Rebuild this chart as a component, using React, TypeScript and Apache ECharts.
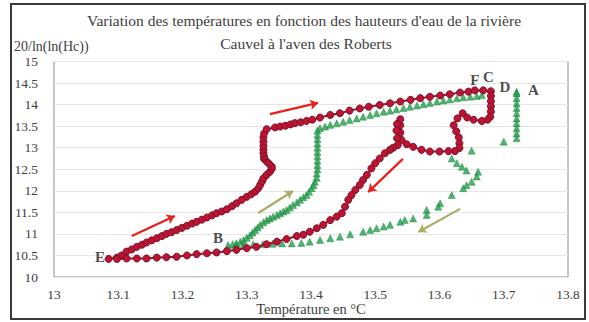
import React, { useEffect, useRef } from "react";
import * as echarts from "echarts";

const titleLines = [
  "Variation des températures en fonction des hauteurs d'eau de la rivière",
  "Cauvel à l'aven des Roberts",
];
const yName = "20/ln(ln(Hc))";
const xName = "Température en °C";

// Red series (circles): temperature / 20/ln(ln(Hc))
const redT = [
  13.085, 13.098, 13.105, 13.113, 13.121, 13.129, 13.137, 13.144, 13.152, 13.16, 13.168, 13.175, 13.183, 13.191, 13.199,
  13.207, 13.215, 13.222, 13.23, 13.238, 13.246, 13.253, 13.261, 13.269, 13.277, 13.284, 13.292, 13.3, 13.307, 13.313,
  13.318, 13.321, 13.324, 13.326, 13.331, 13.336, 13.339, 13.339, 13.335, 13.331, 13.327, 13.327, 13.326, 13.326, 13.326,
  13.326, 13.326, 13.327, 13.331, 13.344, 13.352, 13.36, 13.368, 13.375, 13.384, 13.393, 13.402, 13.414, 13.43, 13.445,
  13.46, 13.476, 13.49, 13.507, 13.523, 13.539, 13.555, 13.57, 13.585, 13.601, 13.616, 13.632, 13.645, 13.655, 13.668,
  13.68, 13.68, 13.68, 13.68, 13.68, 13.679, 13.675, 13.666, 13.653, 13.643, 13.636, 13.628, 13.622, 13.626, 13.63,
  13.631, 13.631, 13.624, 13.614, 13.6, 13.585, 13.572, 13.559, 13.549, 13.541, 13.539, 13.539, 13.539, 13.534, 13.533,
  13.534, 13.535, 13.528, 13.523, 13.515, 13.507, 13.5, 13.494, 13.487, 13.481, 13.476, 13.469, 13.463, 13.458, 13.453,
  13.448, 13.44, 13.43, 13.419, 13.409, 13.398, 13.388, 13.378, 13.362, 13.347, 13.331, 13.315, 13.3, 13.284, 13.269,
  13.253, 13.238, 13.222, 13.207, 13.191, 13.175, 13.16, 13.144, 13.129, 13.113, 13.098,
];
const redH = [
  10.42, 10.45, 10.5, 10.59, 10.64, 10.7, 10.75, 10.8, 10.85, 10.9, 10.95, 11.0, 11.04, 11.09, 11.14,
  11.19, 11.24, 11.28, 11.33, 11.38, 11.43, 11.48, 11.52, 11.57, 11.64, 11.71, 11.79, 11.86, 11.92, 11.98,
  12.06, 12.14, 12.22, 12.29, 12.37, 12.44, 12.51, 12.56, 12.62, 12.68, 12.74, 12.79, 12.87, 12.95, 13.04,
  13.14, 13.24, 13.33, 13.43, 13.47, 13.49, 13.51, 13.54, 13.57, 13.59, 13.62, 13.65, 13.7, 13.76, 13.8,
  13.86, 13.91, 13.95, 13.99, 14.03, 14.07, 14.11, 14.15, 14.18, 14.21, 14.24, 14.28, 14.3, 14.33, 14.33,
  14.31, 14.2, 14.08, 13.96, 13.84, 13.72, 13.65, 13.62, 13.65, 13.7, 13.8, 13.68, 13.52, 13.38, 13.24,
  13.1, 12.99, 12.92, 12.92, 12.91, 12.91, 12.95, 13.02, 13.08, 13.18, 13.35, 13.52, 13.66, 13.55, 13.4,
  13.22, 13.06, 13.0, 12.95, 12.87, 12.75, 12.64, 12.52, 12.37, 12.25, 12.135, 12.02, 11.9, 11.79, 11.63,
  11.48, 11.4, 11.32, 11.21, 11.13, 11.05, 10.98, 10.95, 10.88, 10.82, 10.76, 10.7, 10.67, 10.63, 10.6,
  10.57, 10.55, 10.53, 10.5, 10.47, 10.46, 10.45, 10.43, 10.43, 10.43, 10.42,
];

// Green series (triangles)
const greenT = [
  13.72, 13.72, 13.72, 13.72, 13.72, 13.72, 13.72, 13.72, 13.72, 13.72, 13.72, 13.7, 13.65, 13.619, 13.627,
  13.635, 13.642, 13.66, 13.658, 13.65, 13.642, 13.637, 13.619, 13.601, 13.598, 13.58, 13.58, 13.559, 13.546, 13.539,
  13.523, 13.513, 13.502, 13.492, 13.481, 13.461, 13.445, 13.43, 13.414, 13.398, 13.385, 13.37, 13.355, 13.34, 13.325,
  13.31, 13.295, 13.283, 13.271, 13.278, 13.284, 13.29, 13.295, 13.3, 13.305, 13.309, 13.313, 13.317, 13.321, 13.326,
  13.331, 13.336, 13.341, 13.347, 13.352, 13.357, 13.362, 13.367, 13.372, 13.378, 13.383, 13.388, 13.393, 13.397, 13.401,
  13.404, 13.406, 13.409, 13.409, 13.41, 13.41, 13.41, 13.41, 13.41, 13.41, 13.41, 13.41, 13.41, 13.41, 13.414,
  13.422, 13.43, 13.44, 13.45, 13.46, 13.471, 13.481, 13.492, 13.502, 13.513, 13.523, 13.533, 13.544, 13.554, 13.565,
  13.575, 13.585, 13.596, 13.606, 13.616, 13.627, 13.637, 13.648, 13.658, 13.666,
];
const greenH = [
  14.3, 14.26, 14.15, 14.03, 13.92, 13.8, 13.68, 13.57, 13.45, 13.33, 13.22, 13.14, 12.93, 12.75, 12.64,
  12.56, 12.47, 12.44, 12.33, 12.21, 12.13, 12.06, 11.9, 11.71, 11.63, 11.555, 11.44, 11.36, 11.32, 11.28,
  11.21, 11.17, 11.13, 11.09, 11.05, 10.99, 10.935, 10.9, 10.86, 10.82, 10.79, 10.78, 10.78, 10.77, 10.76,
  10.76, 10.75, 10.75, 10.74, 10.76, 10.78, 10.82, 10.86, 10.91, 10.97, 11.03, 11.09, 11.15, 11.21, 11.27,
  11.32, 11.36, 11.4, 11.44, 11.48, 11.52, 11.555, 11.61, 11.67, 11.73, 11.79, 11.85, 11.9, 11.98, 12.06,
  12.13, 12.21, 12.3, 12.4, 12.5, 12.6, 12.7, 12.8, 12.9, 13.0, 13.1, 13.2, 13.3, 13.4, 13.45,
  13.49, 13.53, 13.565, 13.6, 13.64, 13.68, 13.72, 13.76, 13.8, 13.835, 13.86, 13.89, 13.92, 13.95, 13.98,
  14.01, 14.04, 14.07, 14.095, 14.12, 14.145, 14.17, 14.185, 14.2, 14.22,
];

// Point labels
const letterNames = ["E", "B", "F", "C", "D", "A"];
const letterT = [13.0716, 13.2553, 13.655, 13.676, 13.702, 13.746];
const letterH = [10.464, 10.905, 14.57, 14.647, 14.415, 14.34];

// Arrows [T1, H1, T2, H2]
const redArrows = [
  [13.121, 10.95, 13.188, 11.415],
  [13.336, 13.78, 13.411, 14.04],
  [13.543, 12.74, 13.489, 11.97],
];
const oliveArrows = [
  [13.318, 11.485, 13.372, 11.995],
  [13.632, 11.58, 13.567, 11.045],
];

const SERIF = "'Liberation Serif', 'Times New Roman', serif";

export default function App() {
  const ref = useRef<HTMLDivElement>(null);
  useEffect(() => {
    if (!ref.current) return;
    const chart = echarts.init(ref.current, undefined, { renderer: "svg" });
    const redData = redT.map((t, i) => [t, redH[i]]);
    const greenData = greenT.map((t, i) => [t, greenH[i]]);
    const letters = letterNames.map((n, i) => ({ name: n, value: [letterT[i], letterH[i]] }));
    const arrowLines = (arr: number[][]) =>
      arr.map((a) => [{ coord: [a[0], a[1]] }, { coord: [a[2], a[3]] }]);
    chart.setOption({
      animation: false,
      backgroundColor: "#ffffff",
      grid: {
        left: 54,
        right: 21,
        top: 61.5,
        bottom: 45,
        show: true,
        borderColor: "#8a8a8a",
        borderWidth: 1,
        backgroundColor: "transparent",
      },
      xAxis: {
        type: "value",
        min: 13,
        max: 13.8,
        interval: 0.1,
        axisLine: { show: false },
        axisTick: { show: false },
        splitLine: { show: false },
        axisLabel: {
          margin: 10,
          color: "#404040",
          fontFamily: SERIF,
          fontSize: 13.5,
          formatter: (v: number) => String(Math.round(v * 10) / 10),
        },
      },
      yAxis: {
        type: "value",
        min: 10,
        max: 15,
        interval: 0.5,
        axisLine: { show: false },
        axisTick: { show: false },
        splitLine: { show: true, lineStyle: { color: "#e6e6e6", width: 1 } },
        axisLabel: {
          margin: 16,
          color: "#404040",
          fontFamily: SERIF,
          fontSize: 13.5,
          formatter: (v: number) => String(Math.round(v * 10) / 10),
        },
      },
      graphic: [
        {
          type: "rect",
          silent: true,
          shape: { x: 11, y: 4, width: 574, height: 315 },
          style: { fill: "none", stroke: "#3a3a3a", lineWidth: 2 },
        },
        {
          type: "text",
          x: 304,
          y: 20,
          style: {
            text: titleLines[0],
            fill: "#404040",
            font: `15.5px ${SERIF}`,
            textAlign: "center",
            textVerticalAlign: "middle",
          },
        },
        {
          type: "text",
          x: 306,
          y: 43,
          style: {
            text: titleLines[1],
            fill: "#404040",
            font: `15.5px ${SERIF}`,
            textAlign: "center",
            textVerticalAlign: "middle",
          },
        },
        {
          type: "text",
          x: 14,
          y: 46,
          style: {
            text: yName,
            fill: "#404040",
            font: `14px ${SERIF}`,
            textAlign: "left",
            textVerticalAlign: "middle",
          },
        },
        {
          type: "text",
          x: 311,
          y: 309,
          style: {
            text: xName,
            fill: "#404040",
            font: `14.5px ${SERIF}`,
            textAlign: "center",
            textVerticalAlign: "middle",
          },
        },
      ],
      series: [
        {
          name: "green",
          type: "scatter",
          data: greenData,
          symbol: "triangle",
          symbolSize: 7,
          itemStyle: { color: "#22a04b", borderColor: "#1a7a39", borderWidth: 0.5 },
          z: 2,
          markLine: {
            silent: true,
            symbol: ["none", "arrow"],
            symbolSize: 8,
            label: { show: false },
            lineStyle: { color: "#a9ad66", width: 2.2, type: "solid" },
            data: arrowLines(oliveArrows),
          },
        },
        {
          name: "red",
          type: "line",
          data: redData,
          symbol: "circle",
          symbolSize: 7,
          showSymbol: true,
          lineStyle: { color: "#9c1430", width: 2 },
          itemStyle: { color: "#bd1530", borderColor: "#7c1030", borderWidth: 1 },
          z: 3,
          markLine: {
            silent: true,
            symbol: ["none", "arrow"],
            symbolSize: 8,
            label: { show: false },
            lineStyle: { color: "#ea1f1c", width: 2.2, type: "solid" },
            data: arrowLines(redArrows),
          },
        },
        {
          name: "letters",
          type: "scatter",
          data: letters,
          symbolSize: 1,
          itemStyle: { color: "rgba(0,0,0,0)" },
          z: 5,
          label: {
            show: true,
            position: "inside",
            formatter: (p: any) => p.name,
            color: "#1a1a1a",
            fontFamily: SERIF,
            fontWeight: "bold",
            fontSize: 15,
          },
        },
      ],
    });
    return () => chart.dispose();
  }, []);
  return (
    <div
      ref={ref}
      style={{ position: "fixed", left: 0, top: 0, width: 589, height: 322, background: "#fff" }}
    />
  );
}
